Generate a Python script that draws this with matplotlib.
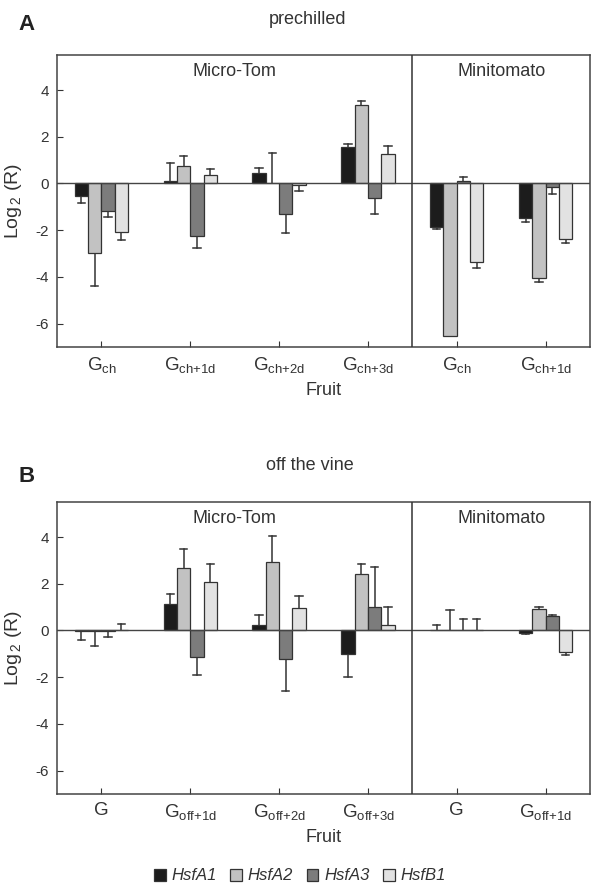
import matplotlib
matplotlib.use("Agg")
import matplotlib.pyplot as plt
import numpy as np
from matplotlib.patches import Patch

plt.rcParams['font.family'] = ['Liberation Sans', 'DejaVu Sans']
plt.rcParams['mathtext.fontset'] = 'custom'
plt.rcParams['mathtext.rm'] = 'Liberation Sans'
plt.rcParams['mathtext.it'] = 'Liberation Sans:italic'

genes = ['HsfA1', 'HsfA2', 'HsfA3', 'HsfB1']
colors = ['#1c1c1c', '#c2c2c2', '#7c7c7c', '#e2e2e2']

# Panel A: prechilled
labels_a = ['G$_{\\mathrm{ch}}$', 'G$_{\\mathrm{ch{+}1d}}$', 'G$_{\\mathrm{ch{+}2d}}$',
            'G$_{\\mathrm{ch{+}3d}}$', 'G$_{\\mathrm{ch}}$', 'G$_{\\mathrm{ch{+}1d}}$']
hsfa1_a = [-0.54, 0.10, 0.43, 1.56, -1.86, -1.46]
hsfa2_a = [-2.97, 0.76, 0.00, 3.37, -6.51, -4.06]
hsfa3_a = [-1.19, -2.23, -1.31, -0.63, 0.10, -0.14]
hsfb1_a = [-2.07, 0.37, -0.06, 1.26, -3.37, -2.37]
err_a1_a = [0.29, 0.76, 0.24, 0.14, 0.08, 0.17]
err_a2_a = [1.43, 0.43, 1.30, 0.17, 0.03, 0.17]
err_a3_a = [0.25, 0.54, 0.82, 0.66, 0.16, 0.30]
err_b1_a = [0.34, 0.24, 0.27, 0.34, 0.24, 0.17]

# Panel B: off the vine
labels_b = ['G', 'G$_{\\mathrm{off{+}1d}}$', 'G$_{\\mathrm{off{+}2d}}$',
            'G$_{\\mathrm{off{+}3d}}$', 'G', 'G$_{\\mathrm{off{+}1d}}$']
hsfa1_b = [-0.02, 1.14, 0.23, -0.99, 0.00, -0.09]
hsfa2_b = [-0.02, 2.67, 2.93, 2.43, 0.00, 0.91]
hsfa3_b = [-0.02, -1.13, -1.21, 0.99, 0.00, 0.60]
hsfb1_b = [0.02, 2.06, 0.96, 0.24, 0.00, -0.91]
err_a1_b = [-0.37, 0.42, 0.43, 1.00, 0.23, 0.05]
err_a2_b = [-0.65, 0.80, 1.11, 0.43, 0.86, 0.10]
err_a3_b = [-0.27, 0.77, 1.40, 1.72, 0.49, 0.06]
err_b1_b = [0.27, 0.80, 0.51, 0.76, 0.51, 0.15]

W, H = 591, 886
fig = plt.figure(figsize=(W / 100, H / 100), dpi=100)

def px_axes(left, top, right, bottom):
    return fig.add_axes([left / W, 1 - bottom / H, (right - left) / W, (bottom - top) / H])

edge = '#333333'

def draw_panel(ax, series, errs, labels):
    x = np.arange(len(labels))
    bw = 0.15
    offs = (np.arange(4) - 1.5) * bw
    for vals, er, c, o in zip(series, errs, colors, offs):
        vals = np.array(vals)
        er = np.array(er)
        ax.bar(x + o, vals, width=bw, color=c, edgecolor=edge, linewidth=0.9, zorder=2)
        # one-sided error bars in the direction of the bar (sign of err gives direction when bar ~0)
        for xi, v, e in zip(x + o, vals, er):
            if e == 0:
                continue
            if abs(v) < 0.03:
                d = np.sign(e)
            else:
                d = np.sign(v)
            end = v + d * abs(e)
            ax.plot([xi, xi], [v, end], color=edge, lw=1.1, zorder=1.5)
            ax.plot([xi - bw * 0.28, xi + bw * 0.28], [end, end], color=edge, lw=1.1, zorder=1.5)
    ax.axhline(0, color='#444444', lw=1.0, zorder=3)
    ax.axvline(3.5, color='#333333', lw=1.1, zorder=3)
    ax.set_xlim(-0.5, 5.5)
    ax.set_ylim(-7, 5.5)
    ax.set_yticks([-6, -4, -2, 0, 2, 4])
    ax.set_yticklabels(['-6', '-4', '-2', '0', '2', '4'])
    ax.set_xticks(x)
    ax.set_xticklabels(labels, fontsize=13.5)
    ax.tick_params(axis='both', direction='in', length=4, color='#333333', labelcolor='#333333')
    ax.tick_params(axis='y', labelsize=11, pad=6)
    ax.tick_params(axis='x', pad=6)
    for s in ax.spines.values():
        s.set_color('#444444')
        s.set_linewidth(1.1)
    ax.text(1.5, 4.8, 'Micro-Tom', ha='center', va='center', fontsize=13, color='#333333')
    ax.text(4.5, 4.8, 'Minitomato', ha='center', va='center', fontsize=13, color='#333333')
    ax.set_xlabel('Fruit', fontsize=13, color='#333333', labelpad=5)
    ax.set_ylabel('Log$_{\\,2}$ (R)', fontsize=14, color='#333333', labelpad=8)

axA = px_axes(57, 55, 590, 347)
draw_panel(axA, [hsfa1_a, hsfa2_a, hsfa3_a, hsfb1_a],
           [err_a1_a, err_a2_a, err_a3_a, err_b1_a], labels_a)
axB = px_axes(57, 502, 590, 794)
draw_panel(axB, [hsfa1_b, hsfa2_b, hsfa3_b, hsfb1_b],
           [err_a1_b, err_a2_b, err_a3_b, err_b1_b], labels_b)

fig.text(18 / W, 1 - 25 / H, 'A', fontsize=16, fontweight='bold', va='center', color='#222222')
fig.text(308 / W, 1 - 20 / H, 'prechilled', fontsize=13, ha='center', va='center', color='#333333')
fig.text(18 / W, 1 - 477 / H, 'B', fontsize=16, fontweight='bold', va='center', color='#222222')
fig.text(310 / W, 1 - 466 / H, 'off the vine', fontsize=13, ha='center', va='center', color='#333333')

handles = [Patch(facecolor=c, edgecolor=edge, linewidth=0.9) for c in colors]
leg = fig.legend(handles, genes, loc='center', bbox_to_anchor=(300 / W, 1 - 876 / H), ncol=4,
                 frameon=False, handlelength=0.7, handleheight=0.7, handletextpad=0.35,
                 columnspacing=0.8, prop={'style': 'italic', 'size': 12})
for t in leg.get_texts():
    t.set_color('#333333')

fig.savefig('out.png', dpi=100)
